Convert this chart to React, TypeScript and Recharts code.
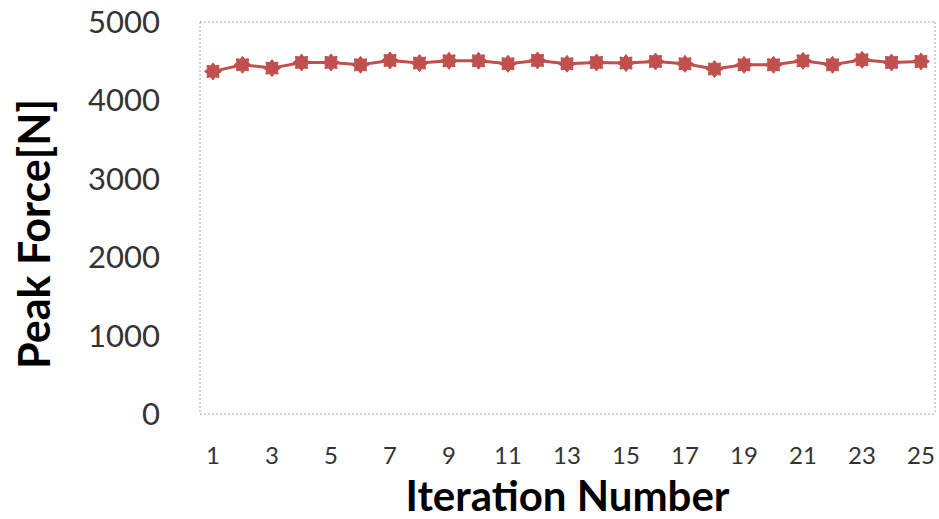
import React from "react";
import { LineChart, Line, XAxis, YAxis, CartesianGrid } from "recharts";

const iterations = [
  "1", "2", "3", "4", "5", "6", "7", "8", "9", "10", "11", "12", "13",
  "14", "15", "16", "17", "18", "19", "20", "21", "22", "23", "24", "25",
];
const peakForce = [
  4370, 4454, 4412, 4484, 4484, 4454, 4510, 4476, 4505, 4505, 4467, 4510, 4467,
  4484, 4476, 4497, 4467, 4400, 4454, 4454, 4505, 4454, 4518, 4484, 4497,
];
const yTicks = [0, 1000, 2000, 3000, 4000, 5000];

const data = iterations.map((it, i) => ({ iteration: it, force: peakForce[i] }));

const RED = "#c0504d";
const GRID = "#a6a6a6";
const FONT = "Lato, 'Open Sans', sans-serif";

function StarDot(props: any) {
  const { cx, cy, index } = props;
  if (cx == null || cy == null) return null;
  const pts: string[] = [];
  for (let k = 0; k < 16; k++) {
    const r = k % 2 === 0 ? 8.5 : 6;
    const a = (Math.PI * k) / 8;
    pts.push(`${cx + r * Math.cos(a)},${cy + r * Math.sin(a)}`);
  }
  return <polygon key={index} points={pts.join(" ")} fill={RED} stroke={RED} strokeWidth={1} />;
}

// rotated y title, placed a bit below the plot's middle like the original
function YTitle(props: any) {
  const vb = props.viewBox || {};
  const cy = (vb.y ?? 22) + (vb.height ?? 392) / 2 + 16;
  return (
    <text
      x={50}
      y={cy}
      transform={`rotate(-90, 50, ${cy})`}
      textAnchor="middle"
      style={{ fontSize: 43, fontWeight: 700, fill: "#000", fontFamily: FONT }}
    >
      Peak Force[N]
    </text>
  );
}

export default function App() {
  return (
    <div style={{ position: "absolute", left: 0, top: 0, background: "#fff" }}>
      <LineChart width={939} height={519} data={data} margin={{ top: 22, right: 0, left: 0, bottom: 0 }}>
        <CartesianGrid vertical={false} stroke={GRID} strokeDasharray="2 2" />
        <XAxis
          dataKey="iteration"
          interval={1}
          padding={{ left: 13, right: 14 }}
          tickLine={false}
          axisLine={false}
          tickSize={0}
          tickMargin={33}
          height={105}
          tick={{ fontSize: 24, fill: "#333", fontFamily: FONT }}
          label={{
            value: "Iteration Number",
            position: "insideBottom",
            offset: 8,
            style: { fontSize: 42, fontWeight: 700, fill: "#000", fontFamily: FONT },
          }}
        />
        <YAxis
          yAxisId="left"
          width={200}
          domain={[0, 5000]}
          ticks={yTicks}
          tickLine={false}
          axisLine={{ stroke: GRID, strokeDasharray: "2 2" }}
          tickMargin={34}
          tick={{ fontSize: 31, fill: "#333", fontFamily: FONT }}
          label={<YTitle />}
        />
        <YAxis
          yAxisId="right"
          orientation="right"
          width={4}
          domain={[0, 5000]}
          tick={false}
          tickLine={false}
          axisLine={{ stroke: GRID, strokeDasharray: "2 2" }}
        />
        <Line
          yAxisId="left"
          dataKey="force"
          stroke={RED}
          strokeWidth={3}
          dot={StarDot}
          activeDot={false}
          isAnimationActive={false}
        />
      </LineChart>
    </div>
  );
}
